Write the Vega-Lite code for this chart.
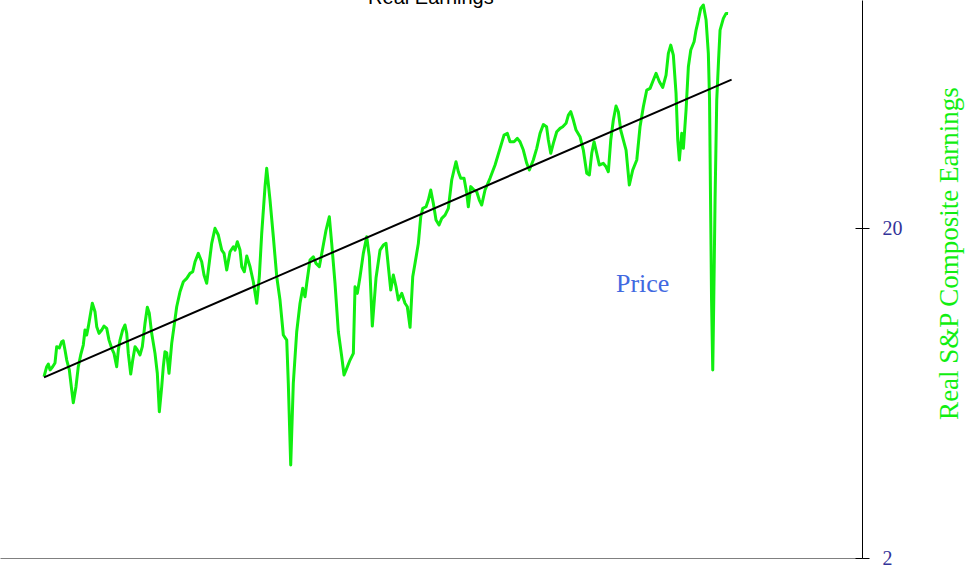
{
  "$schema": "https://vega.github.io/schema/vega-lite/v6.json",
  "width": 862,
  "height": 558,
  "autosize": {"type": "none"},
  "padding": {"left": 0, "top": 0, "right": 113, "bottom": 17},
  "background": "white",
  "config": {"view": {"stroke": null}},
  "datasets": {
    "earn": [
      {"year":1871.0,"value":7.09},{"year":1871.56,"value":7.60},{"year":1871.9,"value":7.74},{"year":1872.25,"value":7.43},{"year":1872.8,"value":7.60},{"year":1873.29,"value":7.80},{"year":1873.64,"value":8.74},{"year":1874.18,"value":8.66},{"year":1874.68,"value":9.05},{"year":1875.0,"value":9.11},{"year":1875.37,"value":8.54},{"year":1875.73,"value":7.96},{"year":1876.27,"value":7.43},{"year":1876.77,"value":6.46},{"year":1877.1,"value":5.91},{"year":1877.66,"value":6.61},{"year":1878.14,"value":7.60},{"year":1878.64,"value":8.25},{"year":1879.18,"value":8.84},{"year":1879.54,"value":9.82},{"year":1879.89,"value":9.48},{"year":1880.23,"value":10.05},{"year":1880.58,"value":10.77},{"year":1881.06,"value":11.83},{"year":1881.62,"value":11.15},{"year":1881.98,"value":10.05},{"year":1882.46,"value":9.59},{"year":1883.02,"value":9.82},{"year":1883.5,"value":10.09},{"year":1884.06,"value":9.93},{"year":1884.54,"value":9.15},{"year":1885.1,"value":8.64},{"year":1885.58,"value":8.34},{"year":1886.14,"value":7.60},{"year":1886.48,"value":8.54},{"year":1886.83,"value":9.15},{"year":1887.39,"value":9.82},{"year":1887.87,"value":10.17},{"year":1888.23,"value":9.59},{"year":1888.56,"value":8.34},{"year":1889.06,"value":7.22},{"year":1889.48,"value":7.96},{"year":1889.96,"value":8.74},{"year":1890.44,"value":8.54},{"year":1891.0,"value":8.25},{"year":1891.48,"value":8.74},{"year":1892.04,"value":10.29},{"year":1892.52,"value":11.50},{"year":1892.93,"value":11.03},{"year":1893.43,"value":9.59},{"year":1894.12,"value":8.34},{"year":1894.6,"value":7.26},{"year":1895.02,"value":5.55},{"year":1895.52,"value":6.61},{"year":1895.85,"value":7.60},{"year":1896.2,"value":8.44},{"year":1896.56,"value":8.38},{"year":1897.04,"value":7.26},{"year":1897.6,"value":8.94},{"year":1898.08,"value":10.05},{"year":1898.64,"value":11.55},{"year":1899.33,"value":12.82},{"year":1900.02,"value":13.75},{"year":1900.73,"value":14.08},{"year":1901.41,"value":14.58},{"year":1901.98,"value":14.74},{"year":1902.46,"value":15.81},{"year":1903.14,"value":16.76},{"year":1903.85,"value":15.81},{"year":1904.33,"value":14.41},{"year":1904.89,"value":13.60},{"year":1905.23,"value":14.92},{"year":1905.93,"value":17.97},{"year":1906.62,"value":19.96},{"year":1907.31,"value":19.05},{"year":1908.02,"value":17.15},{"year":1908.5,"value":16.76},{"year":1909.06,"value":14.92},{"year":1909.75,"value":16.95},{"year":1910.44,"value":17.55},{"year":1910.79,"value":17.15},{"year":1911.27,"value":18.18},{"year":1911.83,"value":17.15},{"year":1912.19,"value":15.27},{"year":1912.73,"value":14.74},{"year":1913.23,"value":16.45},{"year":1913.92,"value":15.27},{"year":1914.6,"value":13.75},{"year":1915.31,"value":11.83},{"year":1915.85,"value":14.24},{"year":1916.35,"value":19.27},{"year":1917.04,"value":26.70},{"year":1917.39,"value":30.34},{"year":1918.08,"value":24.31},{"year":1918.77,"value":18.82},{"year":1919.48,"value":14.24},{"year":1920.16,"value":12.10},{"year":1920.85,"value":9.48},{"year":1921.56,"value":9.15},{"year":1921.89,"value":6.77},{"year":1922.39,"value":3.83},{"year":1922.93,"value":6.77},{"year":1923.64,"value":9.70},{"year":1924.33,"value":11.83},{"year":1924.89,"value":13.13},{"year":1925.37,"value":12.38},{"year":1925.73,"value":13.60},{"year":1926.41,"value":16.00},{"year":1927.1,"value":16.37},{"year":1927.66,"value":15.63},{"year":1928.35,"value":15.27},{"year":1929.06,"value":17.36},{"year":1929.75,"value":19.72},{"year":1930.43,"value":21.64},{"year":1930.93,"value":17.97},{"year":1931.62,"value":13.60},{"year":1932.31,"value":9.70},{"year":1933.02,"value":8.15},{"year":1933.5,"value":7.17},{"year":1934.06,"value":7.51},{"year":1934.75,"value":7.96},{"year":1935.44,"value":8.34},{"year":1935.79,"value":13.28},{"year":1936.27,"value":12.68},{"year":1936.83,"value":14.24},{"year":1937.52,"value":16.76},{"year":1938.22,"value":18.82},{"year":1938.77,"value":16.37},{"year":1939.39,"value":10.09},{"year":1940.16,"value":14.11},{"year":1941.0,"value":17.15},{"year":1941.69,"value":17.76},{"year":1942.25,"value":17.97},{"year":1942.73,"value":15.27},{"year":1943.23,"value":12.98},{"year":1943.77,"value":14.41},{"year":1944.33,"value":13.28},{"year":1944.81,"value":12.10},{"year":1945.52,"value":12.68},{"year":1946.2,"value":11.83},{"year":1946.68,"value":11.55},{"year":1947.25,"value":10.00},{"year":1947.81,"value":14.24},{"year":1948.29,"value":15.63},{"year":1948.98,"value":17.97},{"year":1949.48,"value":21.64},{"year":1949.89,"value":22.95},{"year":1950.58,"value":23.20},{"year":1951.06,"value":24.31},{"year":1951.56,"value":26.08},{"year":1952.1,"value":23.76},{"year":1952.66,"value":21.15},{"year":1953.29,"value":20.42},{"year":1953.85,"value":21.40},{"year":1954.54,"value":21.89},{"year":1955.23,"value":22.95},{"year":1955.93,"value":27.96},{"year":1956.41,"value":29.98},{"year":1956.83,"value":31.77},{"year":1957.31,"value":29.62},{"year":1957.81,"value":28.29},{"year":1958.5,"value":28.29},{"year":1959.06,"value":25.49},{"year":1959.39,"value":23.20},{"year":1959.89,"value":26.70},{"year":1960.58,"value":26.08},{"year":1961.14,"value":25.76},{"year":1961.68,"value":24.31},{"year":1962.18,"value":23.48},{"year":1962.87,"value":26.08},{"year":1963.91,"value":28.29},{"year":1964.96,"value":31.05},{"year":1966.0,"value":34.88},{"year":1966.83,"value":38.26},{"year":1967.52,"value":38.72},{"year":1968.08,"value":36.53},{"year":1968.91,"value":36.53},{"year":1969.6,"value":37.40},{"year":1970.16,"value":36.53},{"year":1970.85,"value":34.47},{"year":1971.56,"value":31.42},{"year":1972.1,"value":29.98},{"year":1972.93,"value":32.15},{"year":1973.64,"value":34.88},{"year":1974.33,"value":38.72},{"year":1975.02,"value":41.17},{"year":1975.69,"value":40.55},{"year":1976.06,"value":36.96},{"year":1976.56,"value":33.69},{"year":1977.1,"value":36.12},{"year":1977.81,"value":39.16},{"year":1978.5,"value":40.10},{"year":1979.06,"value":40.55},{"year":1979.75,"value":41.54},{"year":1980.23,"value":44.00},{"year":1980.73,"value":45.04},{"year":1981.27,"value":42.50},{"year":1981.83,"value":39.63},{"year":1982.66,"value":37.82},{"year":1983.35,"value":34.47},{"year":1984.06,"value":29.30},{"year":1984.6,"value":28.95},{"year":1985.1,"value":33.69},{"year":1985.58,"value":36.53},{"year":1986.14,"value":33.69},{"year":1986.68,"value":31.05},{"year":1987.52,"value":31.42},{"year":1988.08,"value":30.67},{"year":1988.56,"value":29.62},{"year":1989.06,"value":36.96},{"year":1989.6,"value":42.50},{"year":1990.16,"value":46.86},{"year":1990.64,"value":45.04},{"year":1991.14,"value":39.63},{"year":1991.69,"value":36.96},{"year":1992.25,"value":34.47},{"year":1992.93,"value":27.00},{"year":1993.64,"value":29.98},{"year":1994.48,"value":32.15},{"year":1995.16,"value":40.55},{"year":1995.85,"value":46.64},{"year":1996.56,"value":52.39},{"year":1997.25,"value":53.00},{"year":1997.94,"value":56.17},{"year":1998.5,"value":58.87},{"year":1999.19,"value":55.51},{"year":1999.89,"value":53.37},{"year":2000.58,"value":58.16},{"year":2001.06,"value":67.66},{"year":2001.56,"value":71.70},{"year":2002.1,"value":66.89},{"year":2002.66,"value":51.20},{"year":2003.02,"value":36.96},{"year":2003.35,"value":32.15},{"year":2003.85,"value":38.72},{"year":2004.19,"value":34.88},{"year":2004.75,"value":45.58},{"year":2005.23,"value":61.64},{"year":2005.73,"value":69.25},{"year":2006.42,"value":73.38},{"year":2006.83,"value":79.62},{"year":2007.31,"value":85.37},{"year":2007.81,"value":92.64},{"year":2008.35,"value":94.80},{"year":2008.92,"value":85.37},{"year":2009.39,"value":67.66},{"year":2009.64,"value":48.86},{"year":2009.85,"value":24.31},{"year":2010.06,"value":12.10},{"year":2010.31,"value":7.43},{"year":2010.52,"value":12.10},{"year":2010.79,"value":24.31},{"year":2011.14,"value":48.86},{"year":2011.52,"value":64.58},{"year":2011.83,"value":79.62},{"year":2012.52,"value":86.38},{"year":2013.08,"value":89.44},{"year":2013.5,"value":89.33}
    ],
    "trend": [
      {"year": 1871.0, "value": 7.05},
      {"year": 2014.23, "value": 56.36}
    ],
    "labels": [
      {"year": 1995.7, "value": 12.8, "label": "Price"}
    ],
    "titles": [
      {"year": 1951.6, "value": 95.5, "label": "Real Earnings"}
    ]
  },
  "resolve": {"axis": {"y": "independent"}},
  "layer": [
    {
      "data": {"name": "earn"},
      "mark": {"type": "line", "color": "#11ee11", "strokeWidth": 3, "strokeJoin": "round"},
      "encoding": {
        "x": {"field": "year", "type": "quantitative", "scale": {"domain": [1861.83, 2041.4], "nice": false, "zero": false},
              "axis": {"orient": "bottom", "domain": true, "domainColor": "#808080", "domainWidth": 1, "ticks": false, "labels": false, "title": null, "grid": false}},
        "y": {"field": "value", "type": "quantitative", "scale": {"type": "log", "domain": [2, 98.2], "nice": false, "zero": false},
              "axis": {"orient": "right", "values": [2, 20], "format": "d", "domain": true, "domainColor": "black", "domainWidth": 1, "tickColor": "black", "tickSize": 7, "tickWidth": 1, "grid": false,
                       "labelFont": "Liberation Serif", "labelFontSize": 20, "labelColor": "#333399", "labelPadding": 13,
                       "title": "Real S&P Composite Earnings", "titleFont": "Liberation Serif", "titleFontSize": 27, "titleFontWeight": "normal", "titleColor": "#11ee11", "titleAngle": 270, "titleX": 95, "titleY": 253, "titleAlign": "center", "titleBaseline": "alphabetic"}}
      }
    },
    {
      "data": {"name": "trend"},
      "mark": {"type": "line", "color": "black", "strokeWidth": 2},
      "encoding": {
        "x": {"field": "year", "type": "quantitative", "scale": {"domain": [1861.83, 2041.4], "nice": false, "zero": false}},
        "y": {"field": "value", "type": "quantitative", "scale": {"type": "log", "domain": [2, 98.2], "nice": false, "zero": false},
              "axis": {"orient": "right", "values": [2, 20], "domain": false, "labels": false, "title": null, "tickSize": -7, "tickColor": "black", "tickWidth": 1, "grid": false}}
      }
    },
    {
      "data": {"name": "labels"},
      "mark": {"type": "text", "font": "Liberation Serif", "fontSize": 26, "color": "#4169e1", "align": "center", "baseline": "alphabetic"},
      "encoding": {
        "x": {"field": "year", "type": "quantitative", "scale": {"domain": [1861.83, 2041.4], "nice": false, "zero": false}},
        "y": {"field": "value", "type": "quantitative", "scale": {"type": "log", "domain": [2, 98.2], "nice": false, "zero": false}, "axis": null},
        "text": {"field": "label"}
      }
    },
    {
      "data": {"name": "titles"},
      "mark": {"type": "text", "font": "Liberation Sans", "fontSize": 20, "color": "black", "align": "center", "baseline": "alphabetic"},
      "encoding": {
        "x": {"field": "year", "type": "quantitative", "scale": {"domain": [1861.83, 2041.4], "nice": false, "zero": false}},
        "y": {"field": "value", "type": "quantitative", "scale": {"type": "log", "domain": [2, 98.2], "nice": false, "zero": false}, "axis": null},
        "text": {"field": "label"}
      }
    }
  ]
}
